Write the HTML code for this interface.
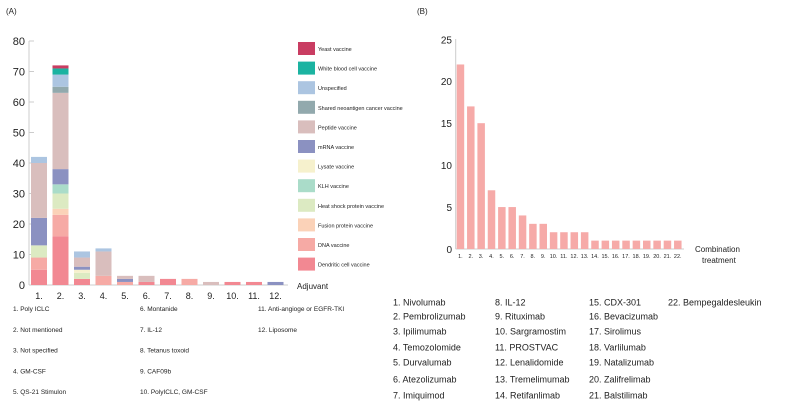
<!DOCTYPE html>
<html><head><meta charset="utf-8"><style>
body{margin:0;background:#fff;font-family:"Liberation Sans",sans-serif;}
svg text{font-family:"Liberation Sans",sans-serif;fill:#222;}
</style></head><body>
<svg id="c" width="785" height="408" xmlns="http://www.w3.org/2000/svg">
<text x="6" y="14" font-size="8">(A)</text>
<text x="417" y="14" font-size="8">(B)</text>
<g id="left"></g>
<g id="right"></g>
</svg>
<script>
const adjCats=["1.","2.","3.","4.","5.","6.","7.","8.","9.","10.","11.","12."];
const seriesNames=["Dendritic cell vaccine","DNA vaccine","Fusion protein vaccine","Heat shock protein vaccine","KLH vaccine","Lysate vaccine","mRNA vaccine","Peptide vaccine","Shared neoantigen cancer vaccine","Unspecified","White blood cell vaccine","Yeast vaccine"];
const seriesColors=["#f28892","#f6aaa5","#fbd2b8","#dceac2","#aadcc9","#f6f1cd","#8b91c1","#d9bebd","#92a9ad","#acc5e1","#1bb3a1","#c93d62"];
const dendritic=[5,16,2,0,0,1,2,0,0,1,1,0];
const dna=[4,7,0,3,1,0,0,2,0,0,0,0];
const fusion=[0,2,0,0,0,0,0,0,0,0,0,0];
const heatShock=[4,5,2,0,0,0,0,0,0,0,0,0];
const klh=[0,3,0,0,0,0,0,0,0,0,0,0];
const lysate=[0,0,1,0,0,0,0,0,0,0,0,0];
const mrna=[9,5,1,0,1,0,0,0,0,0,0,1];
const peptide=[18,25,3,8,1,2,0,0,1,0,0,0];
const shared=[0,2,0,0,0,0,0,0,0,0,0,0];
const unspecified=[2,4,2,1,0,0,0,0,0,0,0,0];
const wbc=[0,2,0,0,0,0,0,0,0,0,0,0];
const yeast=[0,1,0,0,0,0,0,0,0,0,0,0];
const adjTicks=[0,10,20,30,40,50,60,70,80];
const adjLegendText=["1. Poly ICLC","2. Not mentioned","3. Not specified","4. GM-CSF","5. QS-21 Stimulon","6. Montanide","7. IL-12","8. Tetanus toxoid","9. CAF09b","10. PolyICLC, GM-CSF","11. Anti-angioge or EGFR-TKI","12. Liposome"];
const comboCats=["1.","2.","3.","4.","5.","6.","7.","8.","9.","10.","11.","12.","13.","14.","15.","16.","17.","18.","19.","20.","21.","22."];
const comboValues=[22,17,15,7,5,5,4,3,3,2,2,2,2,1,1,1,1,1,1,1,1,1];
const comboTicks=[0,5,10,15,20,25];
const comboNames=["Nivolumab","Pembrolizumab","Ipilimumab","Temozolomide","Durvalumab","Atezolizumab","Imiquimod","IL-12","Rituximab","Sargramostim","PROSTVAC","Lenalidomide","Tremelimumab","Retifanlimab","CDX-301","Bevacizumab","Sirolimus","Varlilumab","Natalizumab","Zalifrelimab","Balstilimab","Bempegaldesleukin"];
const NS="http://www.w3.org/2000/svg";
function mk(p,t,a){const e=document.createElementNS(NS,t);for(const k in a)e.setAttribute(k,a[k]);p.appendChild(e);return e;}
const L=document.getElementById('left');
const allSeries=[dendritic,dna,fusion,heatShock,klh,lysate,mrna,peptide,shared,unspecified,wbc,yeast];
const ly=v=>285-v*(244/80), lx=i=>31+i*21.5;
let ax=mk(L,'line',{x1:29,y1:41,x2:29,y2:285,stroke:'#ccc','stroke-width':1});


let bx=mk(L,'line',{x1:29,y1:285,x2:288,y2:285,stroke:'#ccc','stroke-width':1});


adjTicks.forEach(t=>{
 let tl=mk(L,'line',{x1:29,y1:ly(t),x2:34,y2:ly(t),stroke:'#ccc'});
 
 
 let tx=mk(L,'text',{x:25,y:ly(t)+4,'font-size':11,'text-anchor':'end'});tx.textContent=t;
 
 
});
adjCats.forEach((c,i)=>{
 let base=0;
 allSeries.forEach((s,k)=>{
  if(s[i]>0){let r=mk(L,'rect',{x:lx(i),y:ly(base+s[i]),width:16,height:ly(base)-ly(base+s[i]),fill:seriesColors[k]});
  
  }
  base+=s[i];
 });
 let tx=mk(L,'text',{x:lx(i)+8,y:299,'font-size':9,'text-anchor':'middle'});tx.textContent=c;
 
 
});
for(let k=11;k>=0;k--){
 const y=42+(11-k)*19.6;
 let r=mk(L,'rect',{x:298,y:y,width:17,height:13,fill:seriesColors[k]});
 
 
 let t=mk(L,'text',{x:318,y:y+9,'font-size':5.5});t.textContent=seriesNames[k];
 
 
}
let adj=mk(L,'text',{x:297,y:289,'font-size':8});adj.textContent='Adjuvant';


adjLegendText.forEach((s,i)=>{
 const col=Math.floor(i/5), row=i%5;
 const xs=[13,140,258];
 let t=mk(L,'text',{x:xs[col],y:311+row*20.8,'font-size':6.5});t.textContent=s;
 
 
});
const R=document.getElementById('right');
const ry=v=>249-v*(209.7/25), rx=i=>456.7+i*10.35;
let ay=mk(R,'line',{x1:455.7,y1:39,x2:455.7,y2:249,stroke:'#ccc'});


let axb=mk(R,'line',{x1:455.7,y1:249,x2:684,y2:249,stroke:'#ccc'});


comboTicks.forEach(t=>{
 let tx=mk(R,'text',{x:452,y:ry(t)+4,'font-size':10,'text-anchor':'end'});tx.textContent=t;
 
 
});
comboValues.forEach((v,i)=>{
 let r=mk(R,'rect',{x:rx(i),y:ry(v),width:7.5,height:249-ry(v),fill:'#f6aaa8'});
 
 
 let tx=mk(R,'text',{x:rx(i)+3.7,y:258,'font-size':5.5,'text-anchor':'middle'});tx.textContent=comboCats[i];
 
 
});
let ct=mk(R,'text',{x:695,y:252,'font-size':8});ct.textContent='Combination';


let ct2=mk(R,'text',{x:702,y:263,'font-size':8});ct2.textContent='treatment';


const colX=[393,495,589,668], rowY=[302,316,331,347,362,379,395];
comboNames.forEach((n,i)=>{
 const col=Math.floor(i/7), row=i%7;
 let t=mk(R,'text',{x:colX[col],y:rowY[row]+3.5,'font-size':9});t.textContent=(i+1)+'. '+n;
 
 
});
</script>
</body></html>
